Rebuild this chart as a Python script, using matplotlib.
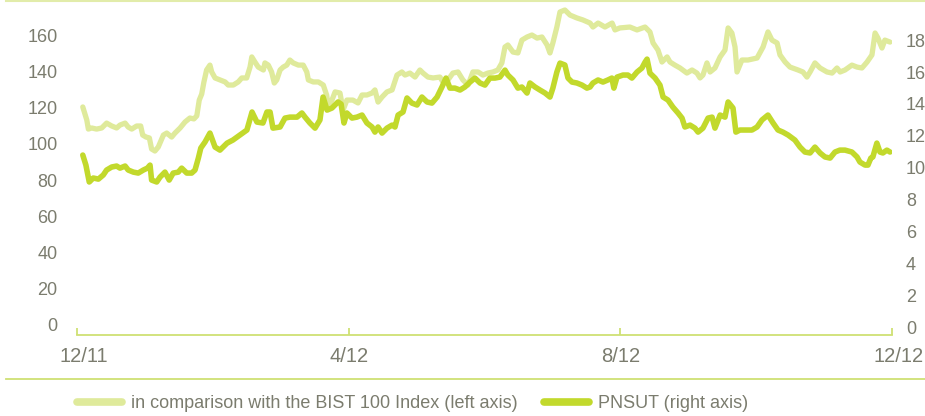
import matplotlib
matplotlib.use("Agg")
import matplotlib.pyplot as plt
import matplotlib.transforms as mtransforms
from matplotlib.lines import Line2D

# days since 1 Dec 2011
bist_days = [2.6, 4.4, 5.1, 6.6, 8.8, 11.1, 13.3, 15.6, 17.8, 19.3, 21.6, 23.0, 24.6, 26.8, 28.6,
             29.5, 31.0, 32.5, 33.5, 35.0, 36.5, 38.8, 40.3, 42.5, 44.0, 46.3, 48.5, 50.7, 52.5,
             53.8, 54.9, 56.0, 57.0, 58.2, 59.7, 60.5, 62.0, 64.2, 66.5, 67.9, 70.2, 72.4, 74.0,
             76.2, 77.7, 78.5, 79.9, 81.4, 83.7, 84.4, 85.9, 87.4, 88.6, 89.7, 91.2, 92.6, 94.2,
             95.6, 97.1, 99.4, 101.6, 103.2, 103.9, 106.1, 108.4, 110.6, 112.1, 112.9, 114.5,
             115.9, 118.1, 119.5, 121.2, 123.9, 126.2, 128.0, 130.2, 132.5, 133.8, 135.2, 137.0,
             139.2, 141.5, 143.7, 145.9, 147.3, 149.5, 151.8, 154.0, 155.4, 157.6, 159.9, 163.0,
             164.3, 166.6, 168.8, 171.1, 173.3, 175.6, 177.8, 180.1, 182.3, 184.5, 186.8, 189.0,
             190.8, 192.2, 193.5, 195.8, 198.0, 199.8, 202.1, 204.3, 206.6, 208.8, 211.1, 212.4,
             213.7, 215.5, 216.9, 219.1, 221.4, 224.5, 227.2, 230.4, 231.7, 234.0, 237.1, 240.3,
             241.6, 243.8, 248.3, 251.5, 255.1, 257.3, 258.7, 260.9, 262.7, 265.0, 266.3, 268.5,
             270.8, 273.9, 276.2, 278.4, 279.8, 281.1, 282.9, 284.3, 286.5, 288.8, 291.0, 292.4,
             294.1, 295.5, 296.4, 298.6, 301.3, 305.4, 308.1, 310.3, 312.1, 314.4, 315.7, 318.0,
             320.2, 323.8, 326.0, 327.8, 329.2, 331.4, 333.7, 336.8, 339.1, 341.3, 342.7, 344.9,
             348.0, 350.3, 352.5, 354.8, 357.0, 358.4, 359.7, 361.5, 362.8, 365.1]
bist_values = [120.3, 113.1, 108.1, 108.7, 108.1, 108.7, 111.4, 109.8, 108.7, 110.3, 111.4, 109.2,
               108.1, 109.8, 109.8, 104.8, 103.7, 103.2, 97.1, 96.0, 98.2, 104.8, 105.9, 103.7,
               105.9, 108.7, 112.0, 114.2, 113.7, 115.4, 124.1, 127.4, 134.1, 140.7, 143.4, 139.6,
               136.3, 135.2, 134.1, 132.4, 132.4, 134.1, 136.3, 136.3, 142.3, 147.9, 145.1, 142.3,
               140.7, 144.6, 143.4, 139.6, 133.5, 135.2, 140.7, 142.3, 143.4, 146.2, 144.6, 143.4,
               143.4, 139.6, 135.2, 134.1, 134.1, 132.4, 126.9, 120.8, 124.1, 128.6, 128.0, 118.6,
               124.1, 124.1, 122.5, 126.9, 126.9, 128.0, 129.7, 123.0, 125.8, 128.6, 129.7, 137.9,
               139.6, 137.9, 139.0, 136.8, 140.7, 139.0, 136.8, 136.3, 136.8, 134.1, 135.2, 139.0,
               139.6, 135.2, 132.4, 139.6, 139.6, 137.9, 139.0, 139.6, 140.7, 144.6, 153.4, 154.5,
               150.6, 150.1, 157.2, 158.9, 160.0, 158.3, 158.9, 154.5, 150.1, 155.6, 164.4, 172.7,
               173.8, 171.0, 169.4, 168.3, 166.6, 164.4, 166.6, 164.4, 166.6, 162.8, 163.9, 164.4,
               162.8, 164.4, 161.7, 155.6, 151.7, 145.1, 147.9, 145.1, 143.4, 141.8, 139.0, 140.7,
               139.0, 136.3, 137.9, 144.6, 139.6, 141.8, 147.9, 151.7, 163.9, 161.1, 153.4, 139.6,
               146.2, 146.2, 147.3, 153.4, 161.7, 157.2, 155.6, 149.0, 145.1, 142.3, 140.7, 139.6,
               136.8, 139.6, 144.6, 141.8, 139.6, 139.0, 141.8, 139.6, 140.7, 143.4, 142.3, 141.8,
               145.1, 149.0, 161.1, 158.3, 152.8, 157.2, 156.1]

pnsut_days = [2.6, 4.0, 5.5, 7.3, 9.6, 11.8, 13.3, 15.6, 17.8, 19.3, 21.6, 23.0, 25.3, 27.5, 29.8,
              31.6, 32.8, 33.5, 35.8, 37.3, 39.5, 41.4, 43.2, 45.5, 47.0, 49.3, 51.5, 53.0, 54.5,
              55.6, 57.5, 59.7, 62.0, 64.2, 67.4, 70.0, 73.2, 76.3, 78.6, 80.8, 83.5, 85.3, 86.7,
              88.0, 91.2, 93.4, 95.6, 98.8, 101.0, 102.4, 104.6, 106.9, 109.1, 110.5, 112.3,
              114.5, 117.2, 118.6, 119.9, 121.2, 123.5, 125.7, 128.0, 130.2, 132.5, 133.8, 135.2,
              137.0, 139.2, 141.5, 142.8, 144.2, 146.4, 148.2, 150.4, 152.7, 154.9, 157.2, 159.4,
              161.7, 163.9, 165.7, 167.5, 169.7, 172.0, 174.2, 176.5, 178.7, 181.0, 183.2, 185.4,
              187.7, 189.9, 192.2, 193.5, 195.8, 198.0, 199.8, 202.1, 203.4, 205.7, 207.9, 210.2,
              212.4, 213.7, 215.5, 216.9, 219.1, 220.5, 222.3, 224.5, 226.8, 229.0, 230.4, 231.7,
              234.0, 236.2, 238.4, 240.2, 241.1, 242.5, 245.2, 247.4, 249.2, 251.5, 253.7, 255.1,
              256.0, 257.3, 259.6, 261.8, 263.2, 265.4, 267.6, 269.9, 271.7, 273.0, 275.3, 277.5,
              278.9, 281.1, 283.4, 285.2, 286.5, 288.8, 291.0, 292.4, 294.6, 295.9, 297.7, 300.9,
              303.1, 305.4, 307.6, 310.3, 312.6, 314.8, 317.0, 319.3, 322.4, 324.7, 326.9, 329.2,
              331.4, 333.7, 335.9, 338.2, 340.4, 342.6, 344.9, 348.0, 350.3, 351.6, 353.9, 355.2,
              356.5, 357.4, 359.2, 360.6, 361.9, 363.7, 365.1]
pnsut_values = [10.79, 10.16, 9.10, 9.35, 9.28, 9.54, 9.85, 10.04, 10.10, 9.97, 10.10, 9.85, 9.72,
                9.66, 9.85, 9.97, 10.16, 9.22, 9.10, 9.41, 9.72, 9.22, 9.66, 9.72, 9.97, 9.66, 9.66,
                9.85, 10.60, 11.23, 11.61, 12.17, 11.29, 11.10, 11.54, 11.73, 12.05, 12.36, 13.49,
                12.86, 12.80, 13.49, 13.49, 12.48, 12.55, 13.11, 13.17, 13.17, 13.43, 13.17, 12.80,
                12.48, 12.99, 14.43, 13.61, 13.74, 14.12, 13.99, 12.80, 13.43, 13.11, 13.17, 13.30,
                12.80, 12.55, 12.23, 12.55, 12.17, 12.48, 12.67, 12.55, 13.30, 13.49, 14.37, 14.05,
                13.93, 14.43, 14.12, 14.05, 14.43, 15.06, 15.62, 14.99, 14.99, 14.87, 15.06, 15.37,
                15.62, 15.31, 15.18, 15.62, 15.62, 15.68, 16.12, 15.81, 15.50, 14.99, 15.06, 14.68,
                15.31, 15.06, 14.87, 14.68, 14.43, 14.99, 16.00, 16.56, 16.44, 15.62, 15.37, 15.31,
                15.18, 14.99, 15.06, 15.31, 15.50, 15.37, 15.50, 15.62, 14.99, 15.68, 15.81, 15.81,
                15.62, 16.00, 16.25, 16.62, 16.81, 15.93, 15.62, 15.18, 14.43, 14.24, 13.80, 13.43,
                13.11, 12.55, 12.67, 12.48, 12.23, 12.48, 13.11, 13.17, 12.48, 13.30, 13.17, 14.12,
                13.74, 12.23, 12.36, 12.36, 12.36, 12.55, 12.99, 13.30, 12.80, 12.36, 12.23, 12.05,
                11.73, 11.29, 10.98, 10.92, 11.29, 10.92, 10.67, 10.60, 10.98, 11.10, 11.10, 10.98,
                10.67, 10.35, 10.16, 10.16, 10.60, 10.67, 11.54, 10.98, 10.92, 11.10, 10.98]

tick_days = [0, 122, 244, 366]
tick_labels = ["12/11", "4/12", "8/12", "12/12"]
left_ticks = [0, 20, 40, 60, 80, 100, 120, 140, 160]
right_ticks = [0, 2, 4, 6, 8, 10, 12, 14, 16, 18]

light_green = "#dfea9b"
dark_green = "#c2d92c"
rule_green = "#cfe074"
text_grey = "#7b7c6e"

plt.rcParams["font.family"] = ["Liberation Sans", "DejaVu Sans"]

fig = plt.figure(figsize=(9.25, 4.16), dpi=100)
ax = fig.add_axes([77 / 925, 81 / 416, 815 / 925, 332 / 416])
ax2 = ax.twinx()

ax.plot(bist_days, bist_values, color=light_green, lw=3.8, solid_joinstyle="round",
        solid_capstyle="round")
ax2.plot(pnsut_days, pnsut_values, color=dark_green, lw=4.0, solid_joinstyle="round",
         solid_capstyle="round")

ax.set_xlim(0, 366)
ax.set_ylim(-5.52, 177.66)
ax2.set_ylim(-0.50, 20.33)

for a in (ax, ax2):
    for s in ("top", "left", "right", "bottom"):
        a.spines[s].set_visible(False)
ax.spines["bottom"].set_visible(True)
ax.spines["bottom"].set_color(rule_green)
ax.spines["bottom"].set_linewidth(1.3)

ax.set_xticks(tick_days)
ax.set_xticklabels(tick_labels)
ax.tick_params(axis="x", direction="in", length=5, width=1.3, color=rule_green,
               pad=9, labelcolor=text_grey, labelsize=14.5)
ax.set_yticks(left_ticks)
ax.tick_params(axis="y", length=0, pad=14, labelcolor=text_grey, labelsize=13)
ax2.set_yticks(right_ticks)
ax2.tick_params(axis="y", length=0, pad=10, labelcolor=text_grey, labelsize=13)

# the first and last date labels sit a little to the right of their ticks
shift = mtransforms.ScaledTranslation(7 / 100, 0, fig.dpi_scale_trans)
xlabels = ax.get_xticklabels()
for lab in (xlabels[0], xlabels[-1]):
    lab.set_transform(lab.get_transform() + shift)

# rules across the figure
fig.add_artist(Line2D([6 / 925, 1], [1 - 1 / 416] * 2, color="#e2ecaa", lw=1.5))
fig.add_artist(Line2D([6 / 925, 1], [1 - 379 / 416] * 2, color=rule_green, lw=1.3))

handles = [Line2D([], [], color=light_green, lw=5.5, solid_capstyle="round"),
           Line2D([], [], color=dark_green, lw=5.5, solid_capstyle="round")]
fig.legend(handles, ["in comparison with the BIST 100 Index (left axis)", "PNSUT (right axis)"],
           loc="center left", bbox_to_anchor=(77 / 925, 1 - 404 / 416), ncol=2, frameon=False,
           borderpad=0, borderaxespad=0, handlelength=2.5, handletextpad=0.5,
           columnspacing=1.45, labelcolor=text_grey, fontsize=13)

fig.savefig("out.png", dpi=100)
